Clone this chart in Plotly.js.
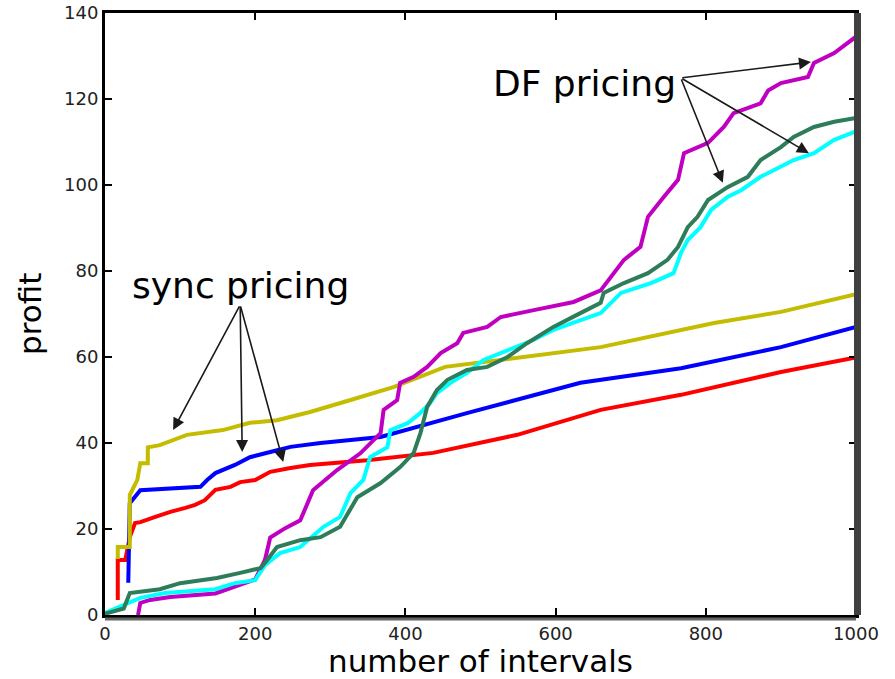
<!DOCTYPE html>
<html>
<head>
<meta charset="utf-8">
<script src="https://cdn.plot.ly/plotly-3.0.1.min.js"></script>
<style>html,body{margin:0;padding:0;background:#fff;}#chart{width:895px;height:679px;}</style>
</head>
<body>
<div id="chart"></div>
<script>
// sync pricing curves
const yellowX = [17,17,33,33,43,47,57,57,73,109,157,193,229,273,327,384,453,527,660,811,900,1000];
const yellowY = [13,15.8,15.8,27.9,31.4,35.3,35.3,39,39.5,41.9,43,44.7,45.3,47.2,50,53,57.7,59.3,62.3,67.9,70.5,74.6];
const blueX = [31,33,47,127,136,147,173,193,220,247,287,367,483,633,767,900,1000];
const blueY = [7.5,26,29,29.8,31.4,33,34.9,36.7,37.9,39.1,40,41.4,47,54,57.4,62.3,67];
const redX = [17,17,27,33,40,47,67,87,107,120,133,147,167,180,200,220,247,273,349,437,549,660,767,900,1000];
const redY = [3.5,12.8,12.8,18.1,21.4,21.6,22.8,24,24.9,25.6,26.7,29.1,29.8,30.9,31.4,33.3,34.2,34.9,36,37.7,41.9,47.7,51.2,56.5,59.9];
// DF pricing curves
const magentaX = [44,47,60,87,147,160,177,200,213,220,240,260,277,309,340,367,371,389,393,411,429,447,469,477,509,527,571,624,660,677,691,713,723,744,763,771,803,824,837,873,883,900,936,944,971,1000];
const magentaY = [0,2.8,3.5,4.2,5,5.8,7,8.3,12.8,18,20.2,22,29,33.7,37.6,42.3,47.7,50,54,55.4,57.7,60.9,63.2,65.6,67,69.3,70.9,72.8,75.5,79.5,82.6,85.6,92.6,97.2,101.2,107.4,109.8,113.5,116.7,119,122,123.7,125.1,128.4,130.7,134.5];
const cyanX = [0,20,47,80,147,173,200,213,233,260,291,313,327,344,353,376,380,403,420,433,442,460,482,504,536,571,597,660,687,727,757,767,776,793,807,829,847,873,891,917,944,971,1000];
const cyanY = [0.5,1.9,4,5.1,6,7.4,8.1,11.6,14.4,15.8,20.5,22.8,28.4,31.4,36.7,39,43,44.6,47,49.3,51.6,54,56.3,59.3,61.6,64,66.3,70.2,74.9,77.2,79.5,84.2,87.2,90.2,94.2,97.2,98.8,101.9,103.5,105.8,107.4,110.5,112.5];
const greenX = [0,25,33,73,100,149,180,207,216,229,260,287,313,336,367,393,411,420,429,442,456,482,509,536,562,597,633,660,664,691,723,749,763,776,789,803,829,856,873,900,917,944,971,1000];
const greenY = [0.3,1.5,5.1,6,7.4,8.6,9.8,10.9,12.8,15.8,17.4,18.1,20.5,27.4,30.7,34.4,37.7,42.3,48.4,52.3,54.7,57,57.7,60,63.2,67,70.2,72.6,74.9,77.2,79.5,82.6,85.6,90.2,92.6,96.5,99.5,101.9,105.8,108.8,111.2,113.5,114.7,115.6];

const xTicks = [0,200,400,600,800,1000];
const yTicks = [0,20,40,60,80,100,120,140];

function line(x, y, color) {
  return {x: x, y: y, type: 'scatter', mode: 'lines', line: {color: color, width: 4}, hoverinfo: 'skip', showlegend: false};
}
const traces = [
  line(redX, redY, '#ff0000'),
  line(blueX, blueY, '#0000ff'),
  line(yellowX, yellowY, '#c4bc00'),
  line(magentaX, magentaY, '#c000c0'),
  line(cyanX, cyanY, '#00ffff'),
  line(greenX, greenY, '#2e7d5a')
];

function arrow(x, y, ax, ay) {
  return {x: x, y: y, ax: ax, ay: ay, xref: 'x', yref: 'y', axref: 'x', ayref: 'y', text: '',
    showarrow: true, arrowhead: 2, arrowsize: 1.5, arrowwidth: 1.6, arrowcolor: '#1a1a1a', standoff: 0};
}

const annotations = [
  {x: 181, y: 76.7, xref: 'x', yref: 'y', text: 'sync pricing', showarrow: false,
   font: {family: 'DejaVu Sans', size: 36, color: '#000'}, xanchor: 'center', yanchor: 'middle'},
  {x: 639, y: 123.5, xref: 'x', yref: 'y', text: 'DF pricing', showarrow: false,
   font: {family: 'DejaVu Sans', size: 36, color: '#000'}, xanchor: 'center', yanchor: 'middle'},
  {x: -0.1, y: 0.5, xref: 'paper', yref: 'paper', text: 'profit', textangle: -90, showarrow: false,
   font: {family: 'DejaVu Sans', size: 31, color: '#000'}, xanchor: 'center', yanchor: 'middle'},
  arrow(90.7, 43, 180, 72.1),
  arrow(182.7, 37.9, 180, 72.1),
  arrow(237.3, 35.6, 180, 72.1),
  arrow(940, 128.6, 766.7, 124.9),
  arrow(822.7, 100.5, 766.7, 124.9),
  arrow(937.3, 107.4, 766.7, 124.9)
];

const layout = {
  width: 895, height: 679,
  margin: {l: 105, r: 39, t: 13, b: 64, pad: 0},
  paper_bgcolor: '#ffffff', plot_bgcolor: '#ffffff',
  font: {family: 'DejaVu Sans', color: '#000'},
  xaxis: {
    range: [0, 1000], tickvals: xTicks, ticktext: xTicks.map(String),
    showgrid: false, zeroline: false, showline: true, linecolor: '#000', linewidth: 3, mirror: 'ticks',
    ticks: 'inside', ticklen: 7, tickwidth: 2, tickcolor: '#000',
    tickfont: {family: 'DejaVu Sans', size: 18, color: '#222'},
    title: {text: 'number of intervals', font: {family: 'DejaVu Sans', size: 31, color: '#000'}, standoff: 2}
  },
  yaxis: {
    range: [0, 140], tickvals: yTicks, ticktext: yTicks.map(String),
    showgrid: false, zeroline: false, showline: true, linecolor: '#000', linewidth: 3, mirror: 'ticks',
    ticks: 'inside', ticklen: 7, tickwidth: 2, tickcolor: '#000',
    tickfont: {family: 'DejaVu Sans', size: 18, color: '#222'}
  },
  annotations: annotations,
  shapes: [
    {type: 'line', xref: 'paper', yref: 'paper', xsizemode: 'pixel', xanchor: 1, x0: 1.5, x1: 1.5, y0: 0, y1: 1,
     line: {color: '#404040', width: 7}},
    {type: 'line', xref: 'paper', yref: 'paper', ysizemode: 'pixel', yanchor: 0, y0: -4, y1: -4, x0: 0, x1: 1,
     line: {color: '#666666', width: 3}}
  ]
};

Plotly.newPlot('chart', traces, layout, {displayModeBar: false, staticPlot: true});
</script>
</body>
</html>
